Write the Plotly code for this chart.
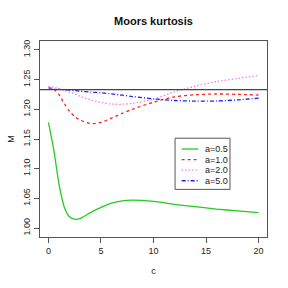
import plotly.graph_objects as go

c_vals = [0, 0.5, 1, 1.5, 2, 2.5, 3, 4, 5, 6, 7, 8, 10, 12, 14, 16, 18, 20]
m_a05 = [1.178, 1.133, 1.075, 1.036, 1.019, 1.015, 1.016, 1.026, 1.035, 1.042, 1.046, 1.047,
         1.045, 1.040, 1.036, 1.032, 1.029, 1.026]
m_a10 = [1.237, 1.234, 1.225, 1.210, 1.197, 1.188, 1.182, 1.176, 1.178, 1.185, 1.193, 1.200,
         1.212, 1.221, 1.2245, 1.2258, 1.2252, 1.224]
m_a20 = [1.238, 1.237, 1.235, 1.232, 1.229, 1.226, 1.222, 1.216, 1.2115, 1.2088, 1.2085, 1.210,
         1.217, 1.2295, 1.239, 1.2466, 1.252, 1.257]
m_a50 = [1.234, 1.2338, 1.2334, 1.233, 1.2322, 1.2314, 1.2306, 1.229, 1.2277, 1.226, 1.2237,
         1.2215, 1.2175, 1.2148, 1.2138, 1.214, 1.2158, 1.2188]
normal_moors = 1.2331

series_names = ["a=0.5", "a=1.0", "a=2.0", "a=5.0"]
series_vals = [m_a05, m_a10, m_a20, m_a50]
colors = ["#22cc22", "#ff2020", "#ee82ee", "#2020ff"]
dashes = ["solid", "3px,3px", "1.5px,2px", "4px,2px,1px,2px"]

fig = go.Figure()
for name, vals, col, d in zip(series_names, series_vals, colors, dashes):
    fig.add_trace(go.Scatter(x=c_vals, y=vals, mode="lines", name=name, showlegend=False,
                             line=dict(color=col, dash=d, width=1.3, shape="spline", smoothing=0.7)))

fig.add_shape(type="line", xref="paper", x0=0, x1=1, yref="y", y0=normal_moors, y1=normal_moors,
              line=dict(color="#444444", width=1.2))

# legend box (paper coords)
lx0, lx1, ly0, ly1 = 0.595, 0.837, 0.243, 0.504
fig.add_shape(type="rect", xref="paper", yref="paper", x0=lx0, x1=lx1, y0=ly0, y1=ly1,
              line=dict(color="#555555", width=1), fillcolor="white", layer="above")
for i, (name, col, d) in enumerate(zip(series_names, colors, dashes)):
    yy = 0.449 - i * 0.054
    fig.add_shape(type="line", xref="paper", yref="paper", x0=0.624, x1=0.697, y0=yy, y1=yy,
                  line=dict(color=col, dash=d, width=1.3), layer="above")
    fig.add_annotation(xref="paper", yref="paper", x=0.72, y=yy, text=name, showarrow=False,
                       xanchor="left", yanchor="middle",
                       font=dict(family="Liberation Sans, Arial, sans-serif", size=9, color="#222222"))

font = dict(family="Liberation Sans, Arial, sans-serif", size=9, color="#222222")
fig.update_layout(
    width=288, height=288,
    margin=dict(l=40, r=21, t=41, b=51),
    paper_bgcolor="white", plot_bgcolor="white",
    font=font,
    title=dict(text="<b>Moors kurtosis</b>", x=0.533, xanchor="center", y=0.925, yanchor="middle",
               font=dict(family="Liberation Sans, Arial, sans-serif", size=11, color="#111111")),
    showlegend=False,
)
fig.update_xaxes(range=[-0.8, 20.8], tickvals=[0, 5, 10, 15, 20], ticks="outside", ticklen=5,
                 tickcolor="#555555", showline=True, linecolor="#555555", linewidth=1, mirror=True,
                 showgrid=False, zeroline=False, automargin=False,
                 title=dict(text="c", standoff=12, font=dict(size=9)))
fig.update_yaxes(range=[0.985, 1.315], tickvals=[1.00, 1.05, 1.10, 1.15, 1.20, 1.25, 1.30],
                 tickformat=".2f", tickangle=-90, ticks="outside", ticklen=5,
                 tickcolor="#555555", showline=True, linecolor="#555555", linewidth=1, mirror=True,
                 showgrid=False, zeroline=False, automargin=False,
                 title=dict(text="M", standoff=6, font=dict(size=9)))

fig.write_html("out.html", config={"displayModeBar": False},
               post_script="document.body.style.margin='0';")
